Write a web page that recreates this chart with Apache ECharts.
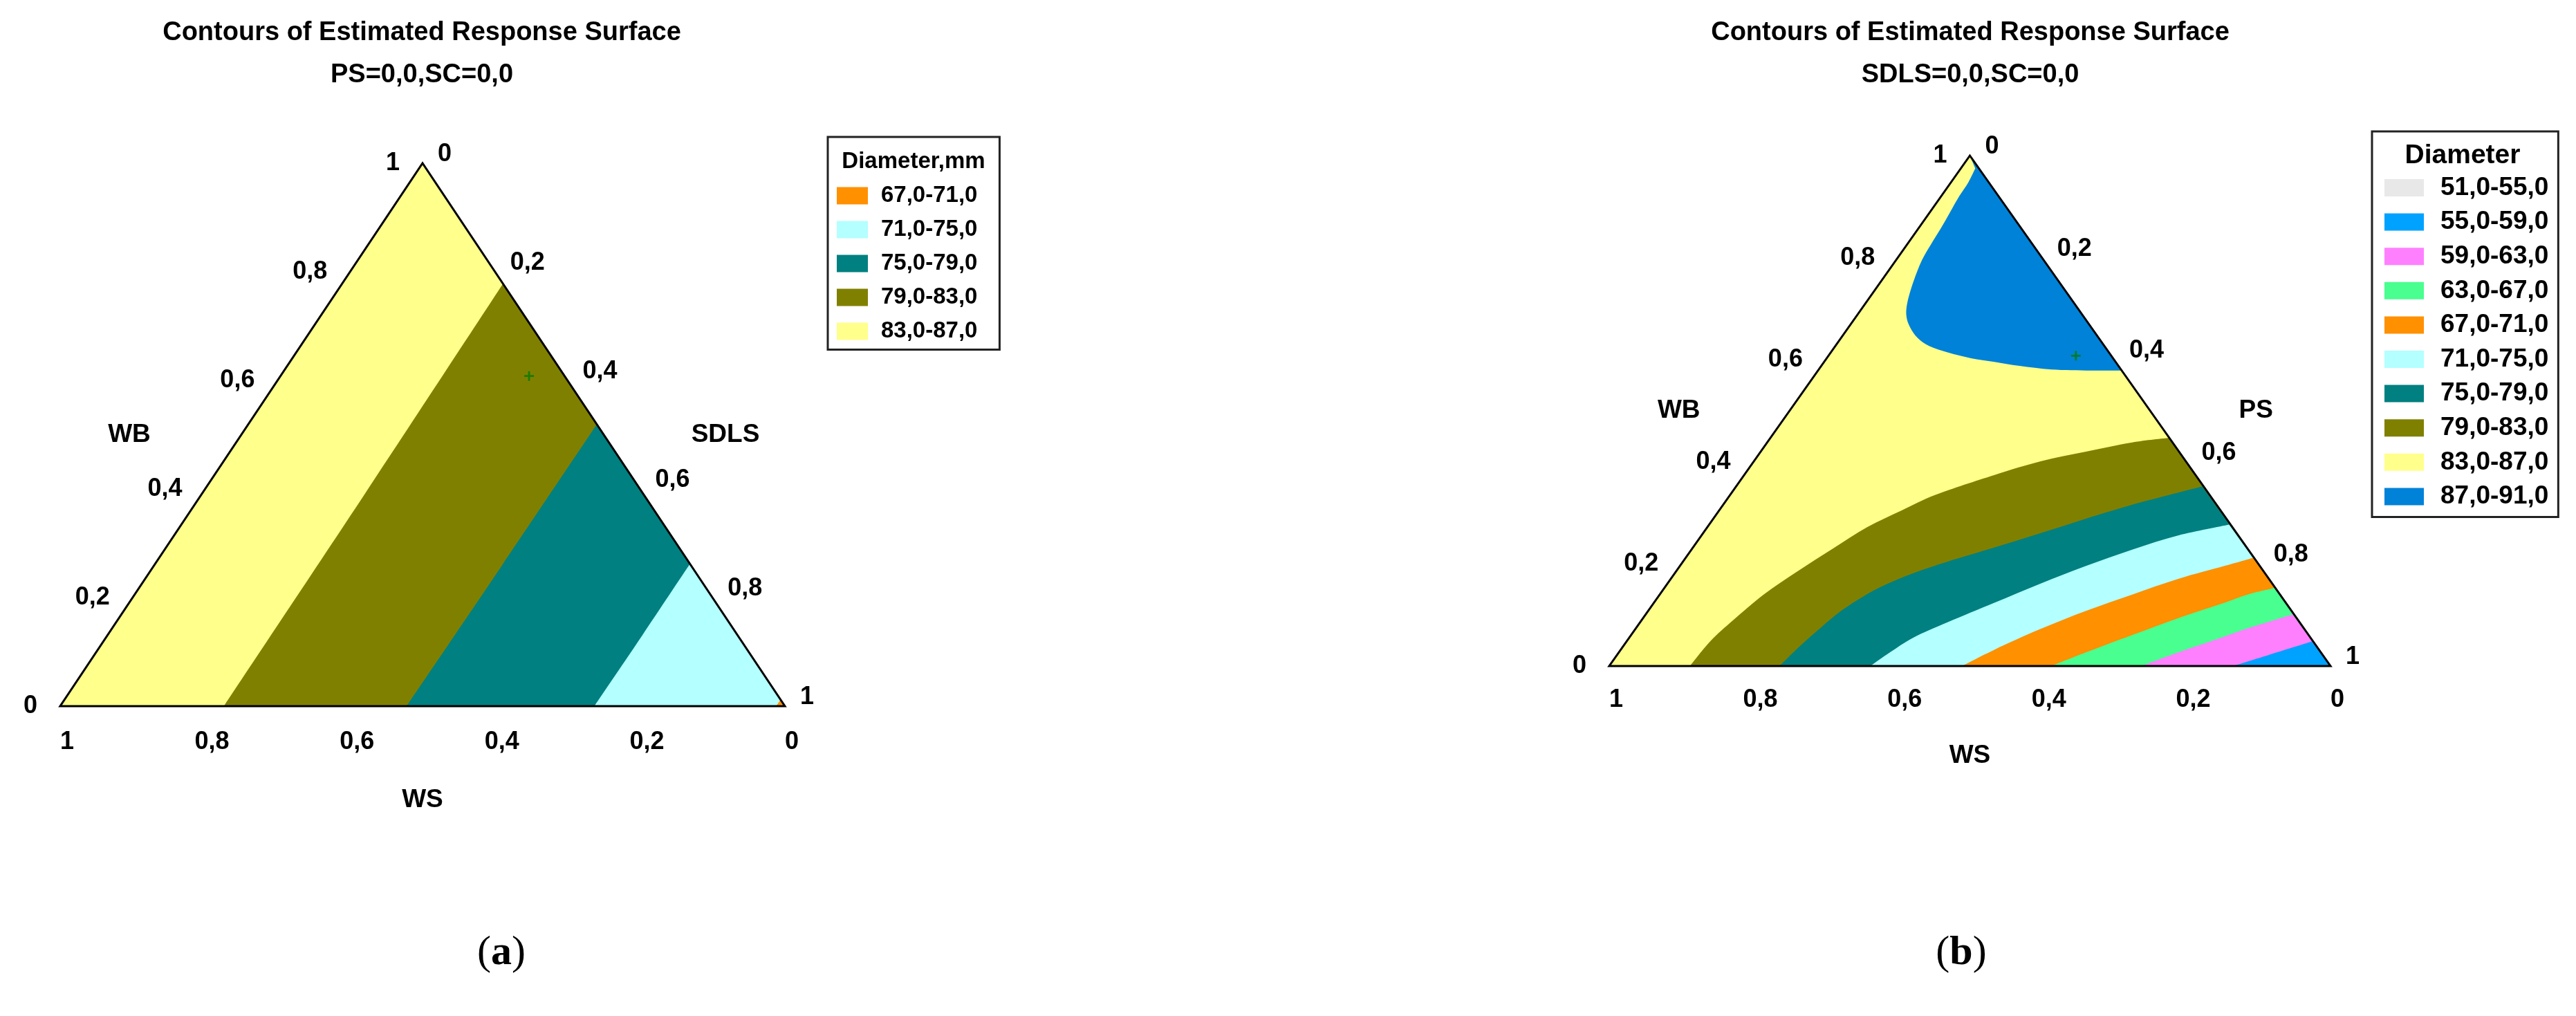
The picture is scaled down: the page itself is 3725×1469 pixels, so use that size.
<!DOCTYPE html>
<html lang="en">
<head>
<meta charset="UTF-8">
<title>Contours of Estimated Response Surface</title>
<script src="https://cdn.jsdelivr.net/npm/echarts@6/dist/echarts.min.js"></script>
<style>html,body{margin:0;padding:0;background:#fff}</style>
</head>
<body>
<div id="main" style="width:3725px;height:1469px"></div>
<script>
// ternary points are [third, WB]; third = SDLS in (a), PS in (b); WS = 1 - third - WB
var tickValues = [0, 0.2, 0.4, 0.6, 0.8, 1];
var tickLabels = ['0', '0,2', '0,4', '0,6', '0,8', '1'];

var bandNames  = ['51,0-55,0', '55,0-59,0', '59,0-63,0', '63,0-67,0', '67,0-71,0',
                  '71,0-75,0', '75,0-79,0', '79,0-83,0', '83,0-87,0', '87,0-91,0'];
var bandColors = ['#e8e8e8', '#00a2ff', '#ff80ff', '#48ff90', '#ff9000',
                  '#b4ffff', '#008080', '#808000', '#ffff8c', '#0082d8'];

// panel (a): PS=0, SC=0 -> contour lines
var a83 = [[0.226, 0], [0.225, 0.39], [0.222, 0.778]];
var a79 = [[0.478, 0], [0.480, 0.26], [0.481, 0.519]];
var a75 = [[0.737, 0], [0.738, 0.13], [0.738, 0.262]];
var a71 = [[0.988, 0], [0.988, 0.012]];

// panel (b): SDLS=0, SC=0
var b87 = [[0.020, 0.975], [0.024, 0.948], [0.025, 0.921], [0.028, 0.889], [0.031, 0.858],
           [0.033, 0.826], [0.036, 0.795], [0.045, 0.754], [0.057, 0.713], [0.069, 0.686],
           [0.085, 0.664], [0.106, 0.643], [0.130, 0.627], [0.163, 0.614], [0.200, 0.603],
           [0.236, 0.596], [0.275, 0.588], [0.323, 0.581], [0.378, 0.579], [0.420, 0.579]];
var b83 = [[0.112, 0], [0.116, 0.049], [0.127, 0.090], [0.144, 0.140], [0.1685, 0.186],
           [0.195, 0.230], [0.2215, 0.272], [0.253, 0.305], [0.2855, 0.336], [0.3465, 0.374],
           [0.3975, 0.401], [0.451, 0.420], [0.506, 0.438], [0.553, 0.447]];
var b79 = [[0.236, 0], [0.244, 0.036], [0.256, 0.076], [0.270, 0.113], [0.297, 0.153],
           [0.3306, 0.182], [0.3675, 0.205], [0.4175, 0.232], [0.4675, 0.260], [0.517, 0.289],
           [0.567, 0.316], [0.606, 0.334], [0.646, 0.352]];
var b75 = [[0.362, 0], [0.376, 0.027], [0.394, 0.056], [0.4265, 0.086], [0.472, 0.124],
           [0.5165, 0.161], [0.563, 0.196], [0.611, 0.228], [0.6615, 0.256], [0.721, 0.277]];
var b71 = [[0.489, 0], [0.518, 0.032], [0.561, 0.072], [0.607, 0.108], [0.655, 0.140],
           [0.704, 0.171], [0.755, 0.196], [0.787, 0.212]];
var b67 = [[0.613, 0], [0.648, 0.027], [0.695, 0.061], [0.742, 0.094], [0.791, 0.124],
           [0.815, 0.140], [0.846, 0.153]];
var b63 = [[0.738, 0], [0.776, 0.027], [0.824, 0.058], [0.848, 0.074], [0.897, 0.101]];
var b59 = [[0.865, 0], [0.904, 0.022], [0.950, 0.048]];

var designPoint = [0.343, 0.608];

var FONT = '"Liberation Sans", Arial, Helvetica, sans-serif';

function toXY(p) { return [p[0] + p[1] / 2, p[1]]; }

// smooth curve through the contour points (catmull-rom as cubic bezier), closed at a corner
function contourPath(pts, corner) {
  var n = pts.length, d = 'M' + pts[0][0] + ',' + pts[0][1];
  for (var i = 0; i < n - 1; i++) {
    var p0 = pts[Math.max(i - 1, 0)], p1 = pts[i], p2 = pts[i + 1], p3 = pts[Math.min(i + 2, n - 1)];
    var c1 = [p1[0] + (p2[0] - p0[0]) / 6, p1[1] + (p2[1] - p0[1]) / 6];
    var c2 = [p2[0] - (p3[0] - p1[0]) / 6, p2[1] - (p3[1] - p1[1]) / 6];
    d += 'C' + c1[0] + ',' + c1[1] + ' ' + c2[0] + ',' + c2[1] + ' ' + p2[0] + ',' + p2[1];
  }
  return d + 'L' + corner[0] + ',' + corner[1] + 'Z';
}

function band(grid, idx, boundary, corner) {
  var color = bandColors[idx];
  return {
    type: 'custom', name: bandNames[idx], coordinateSystem: 'cartesian2d',
    xAxisIndex: grid, yAxisIndex: grid, silent: true,
    itemStyle: {color: color},
    data: boundary ? [[0, 0]] : [],
    renderItem: function (params, api) {
      var pts = boundary.map(function (p) { return api.coord(toXY(p)); });
      var c = api.coord(toXY(corner));
      return {type: 'path', shape: {pathData: contourPath(pts, c)}, style: {fill: color}};
    }
  };
}

function outline(grid) {
  return {
    type: 'custom', coordinateSystem: 'cartesian2d', xAxisIndex: grid, yAxisIndex: grid,
    silent: true, z: 4, data: [[0, 0]],
    renderItem: function (params, api) {
      var pts = [[0, 0], [1, 0], [0, 1]].map(function (p) { return api.coord(toXY(p)); });
      return {type: 'polygon', shape: {points: pts},
              style: {fill: 'none', stroke: '#000', lineWidth: 3}};
    }
  };
}

function txt(s, x, y, align, size) {
  return {
    type: 'text', x: x, y: y,
    style: {text: s, fill: '#000', font: 'bold ' + (size || 36) + 'px ' + FONT,
            align: align, verticalAlign: 'middle',
            textAlign: align, textVerticalAlign: 'middle'}
  };
}

function labels(grid, names, off) {
  return {
    type: 'custom', coordinateSystem: 'cartesian2d', xAxisIndex: grid, yAxisIndex: grid,
    silent: true, z: 5,
    data: tickValues.map(function (v, i) { return [i, 0]; }),
    renderItem: function (params, api) {
      var i = params.dataIndex, v = tickValues[i], t = tickLabels[i];
      var L = api.coord(toXY([0, v]));
      var R = api.coord(toXY([v, 1 - v]));
      var B = api.coord(toXY([1 - v, 0]));
      var kids = [
        txt(t, L[0] - 33, L[1], 'right'),
        txt(t, R[0] + 22, R[1] - 13, 'left'),
        txt(t, B[0] + 10, B[1] + off.by, 'center')
      ];
      if (i === 0) {
        var ml = api.coord(toXY([0, 0.5]));
        var mr = api.coord(toXY([0.5, 0.5]));
        var mb = api.coord(toXY([0.5, 0]));
        kids.push(txt(names[0], ml[0] + off.left, ml[1], 'center', 37));
        kids.push(txt(names[1], mr[0] + off.right, mr[1], 'center', 37));
        kids.push(txt(names[2], mb[0], mb[1] + off.bottom, 'center', 37));
      }
      return {type: 'group', children: kids};
    }
  };
}

function marker(grid) {
  return {
    type: 'scatter', xAxisIndex: grid, yAxisIndex: grid, silent: true, z: 6,
    symbol: 'path://M4,0H6V4H10V6H6V10H4V6H0V4H4Z', symbolSize: 14,
    itemStyle: {color: '#007a00'},
    data: [toXY(designPoint)]
  };
}

var series = [
  // (a)
  band(0, 8, [[0, 0], [1, 0]], [0, 1]),
  band(0, 7, a83, [1, 0]),
  band(0, 6, a79, [1, 0]),
  band(0, 5, a75, [1, 0]),
  band(0, 4, a71, [1, 0]),
  outline(0), marker(0),
  labels(0, ['WB', 'SDLS', 'WS'], {left: -162, right: 176, bottom: 136, by: 52}),
  // (b)
  band(1, 8, [[0, 0], [1, 0]], [0, 1]),
  band(1, 7, b83, [1, 0]),
  band(1, 6, b79, [1, 0]),
  band(1, 5, b75, [1, 0]),
  band(1, 4, b71, [1, 0]),
  band(1, 3, b67, [1, 0]),
  band(1, 2, b63, [1, 0]),
  band(1, 1, b59, [1, 0]),
  band(1, 9, b87, [0, 1]),
  band(1, 0, null, null),
  outline(1), marker(1),
  labels(1, ['WB', 'PS', 'WS'], {left: -160, right: 153, bottom: 130, by: 49})
];

function legendBox(names, left, top, itemW, itemH, gap, pad, size, textGap) {
  return {
    data: names, orient: 'vertical', left: left, top: top,
    icon: 'rect', itemWidth: itemW, itemHeight: itemH, itemGap: gap,
    selectedMode: false, padding: pad,
    borderColor: '#222', borderWidth: 3, backgroundColor: '#fff',
    textStyle: {color: '#000', fontFamily: FONT, fontWeight: 'bold', fontSize: size,
                padding: [0, 0, 0, textGap]}
  };
}

function textEl(x, y, s, size, z) {
  return {type: 'text', x: x, y: y, z: z || 1, style: {text: s, fill: '#000',
    font: 'bold ' + size + 'px ' + FONT, align: 'center', verticalAlign: 'middle',
    textAlign: 'center', textVerticalAlign: 'middle'}};
}

function panelTag(x, letter) {
  return {type: 'text', x: x, y: 1378, style: {
    text: '({b|' + letter + '})', fill: '#000', font: '60px "Liberation Serif", serif',
    rich: {b: {fontWeight: 'bold', fontSize: 60, fontFamily: '"Liberation Serif", serif'}},
    align: 'center', verticalAlign: 'middle', textAlign: 'center', textVerticalAlign: 'middle'}};
}

var option = {
  animation: false,
  backgroundColor: '#fff',
  grid: [
    {left: 87, top: 236, width: 1048, height: 785},
    {left: 2327, top: 225, width: 1043, height: 738}
  ],
  xAxis: [
    {gridIndex: 0, type: 'value', min: 0, max: 1, show: false},
    {gridIndex: 1, type: 'value', min: 0, max: 1, show: false}
  ],
  yAxis: [
    {gridIndex: 0, type: 'value', min: 0, max: 1, show: false},
    {gridIndex: 1, type: 'value', min: 0, max: 1, show: false}
  ],
  legend: [
    legendBox(bandNames.slice(4, 9), 1197, 198, 45, 25, 16, [68.5, 32, 10, 13], 33, 14),
    legendBox(bandNames, 3430, 190, 57, 25, 12.6, [63, 14, 11, 18], 37, 19)
  ],
  graphic: [
    textEl(610, 48, 'Contours of Estimated Response Surface', 38),
    textEl(610, 109, 'PS=0,0,SC=0,0', 38),
    textEl(2849, 48, 'Contours of Estimated Response Surface', 38),
    textEl(2849, 109, 'SDLS=0,0,SC=0,0', 38),
    textEl(1321, 234, 'Diameter,mm', 33, 10),
    textEl(3561, 225, 'Diameter', 39, 10),
    panelTag(725, 'a'),
    panelTag(2836, 'b')
  ],
  series: series
};

var myChart = echarts.init(document.getElementById('main'));
myChart.setOption(option);
</script>
</body>
</html>
